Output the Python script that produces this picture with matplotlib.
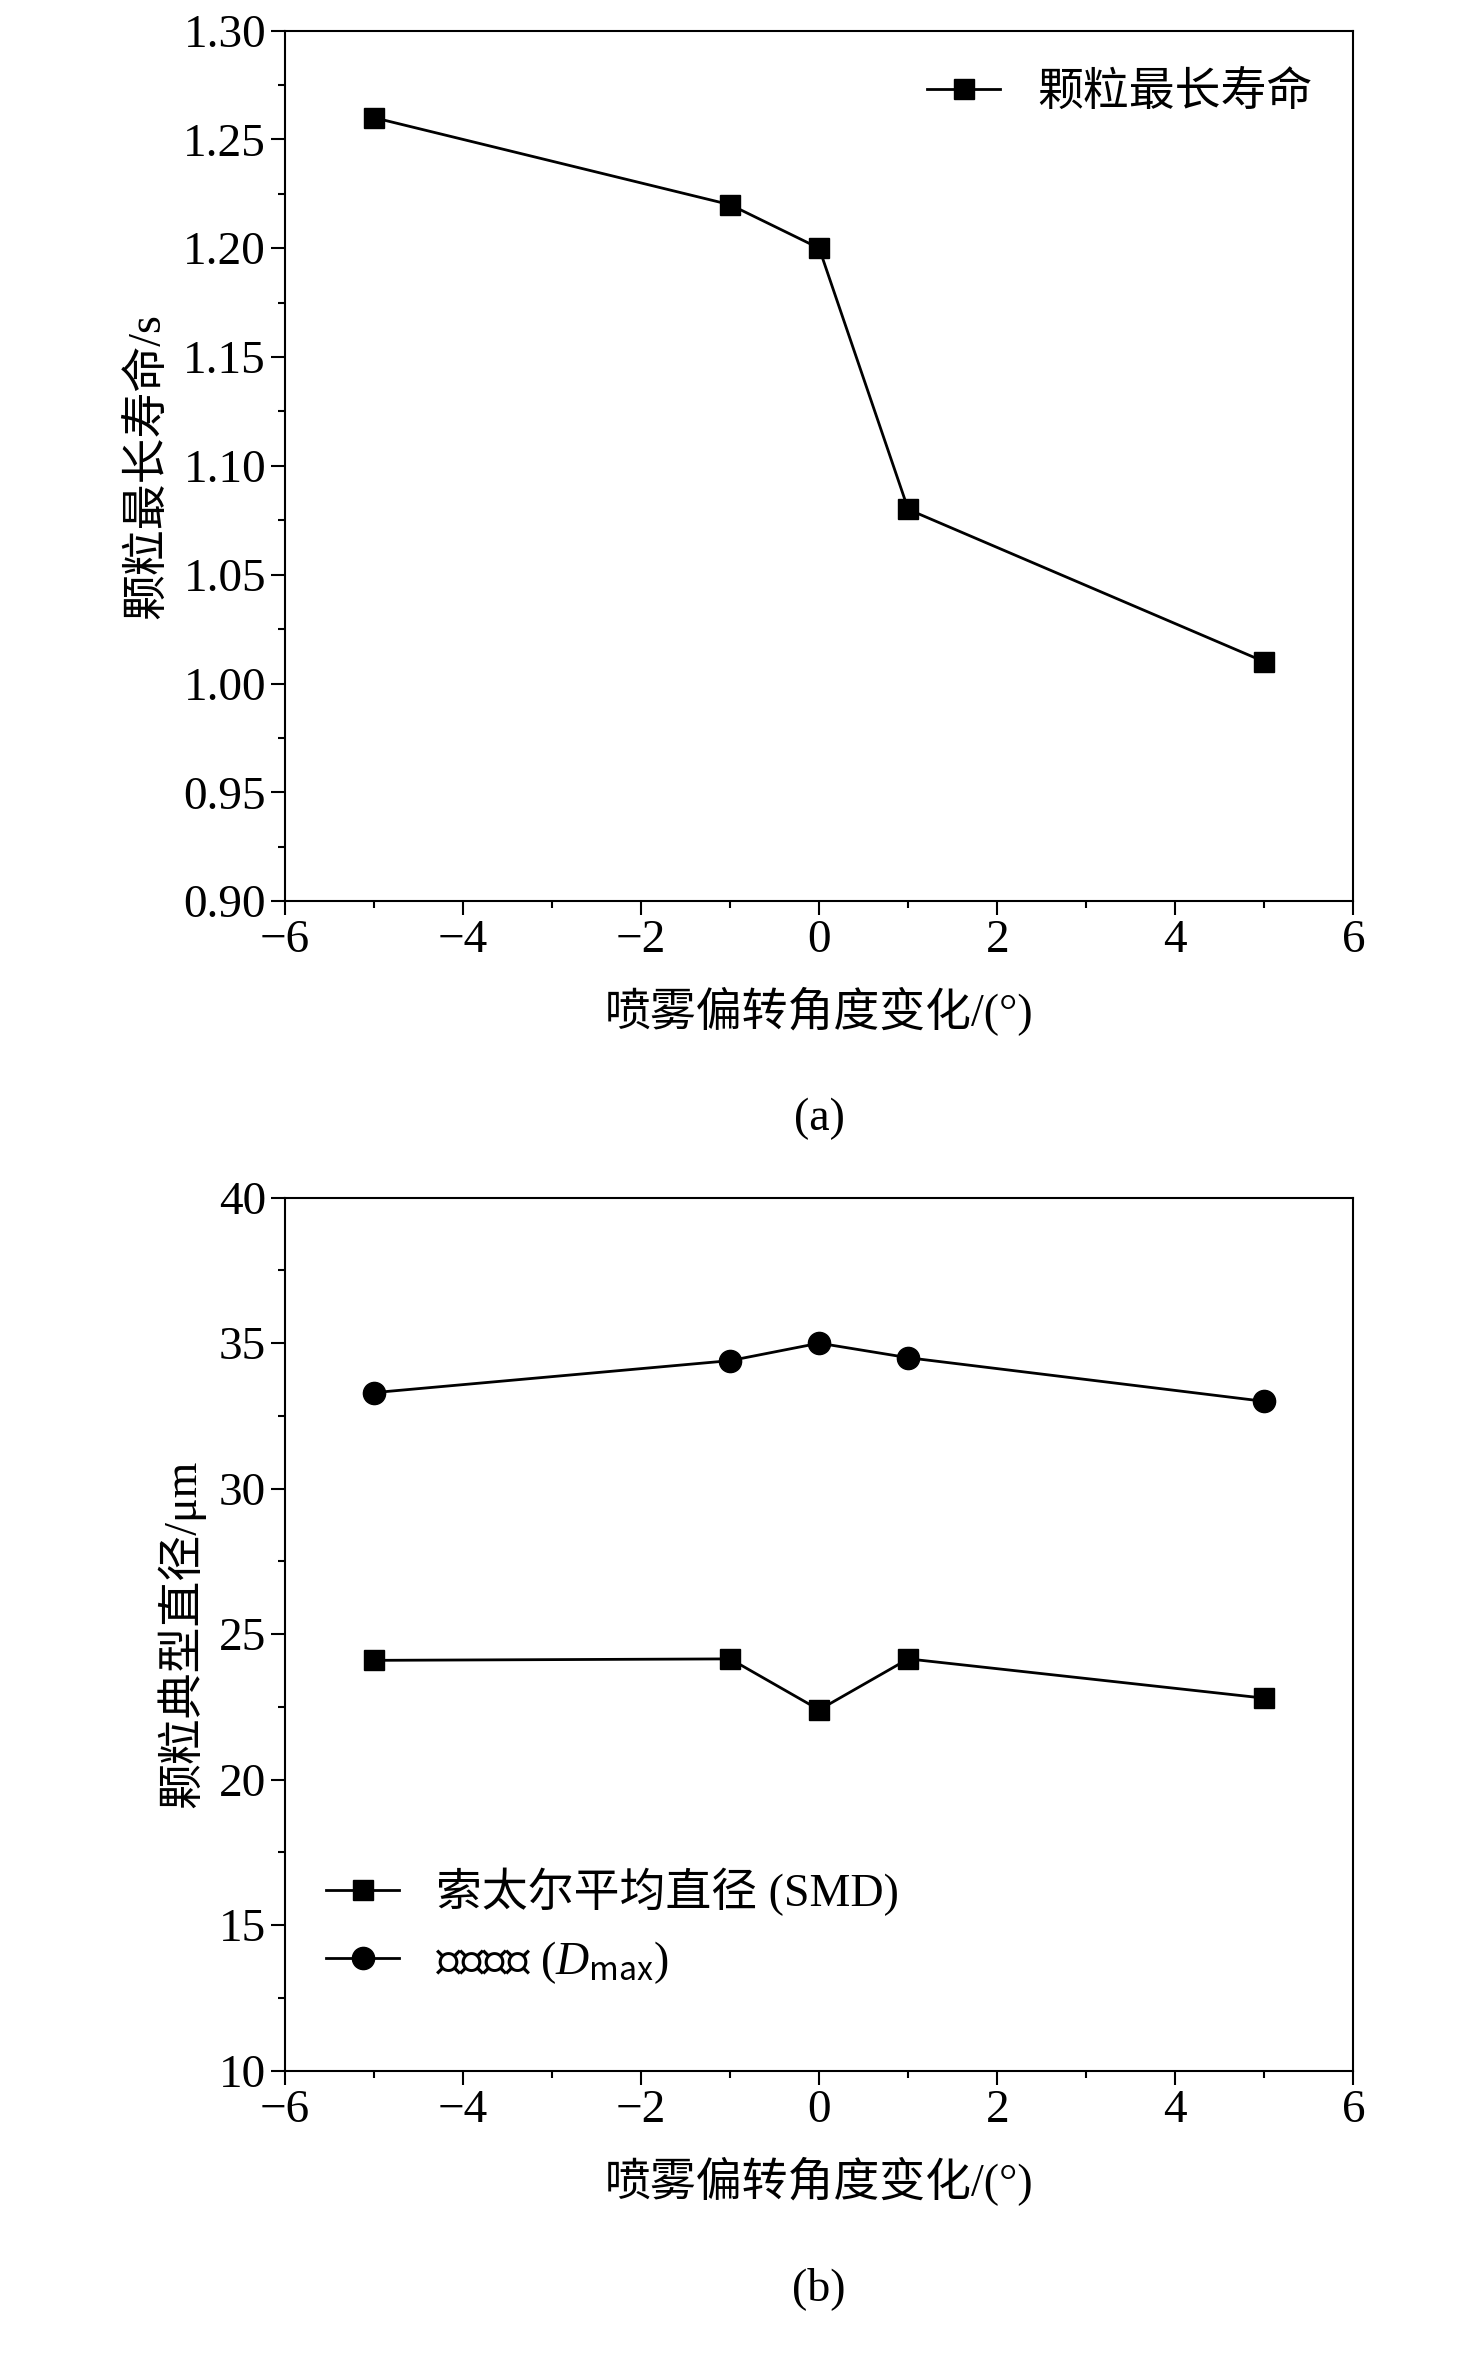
import matplotlib
matplotlib.use("Agg")
import matplotlib.pyplot as plt
from matplotlib.ticker import MultipleLocator

plt.rcParams['font.family'] = ['Liberation Serif', 'Noto Sans CJK SC']
plt.rcParams['font.size'] = 33
plt.rcParams['axes.unicode_minus'] = True
plt.rcParams['mathtext.fontset'] = 'custom'
plt.rcParams['mathtext.rm'] = 'Noto Sans CJK SC'
plt.rcParams['mathtext.it'] = 'Liberation Serif:italic'
plt.rcParams['mathtext.default'] = 'regular'

angle = [-5, -1, 0, 1, 5]
life = [1.26, 1.22, 1.20, 1.08, 1.01]
smd = [24.1, 24.15, 22.4, 24.15, 22.8]
dmax = [33.3, 34.4, 35.0, 34.5, 33.0]

fig = plt.figure(figsize=(14.76, 23.53), dpi=100)
ax1 = fig.add_axes([0.193, 0.617, 0.724, 0.370])
ax2 = fig.add_axes([0.193, 0.120, 0.724, 0.371])

ax1.plot(angle, life, 'k-s', lw=2, ms=14, label='颗粒最长寿命')
ax1.set_ylim(0.90, 1.30)
ax1.yaxis.set_major_locator(MultipleLocator(0.05))
ax1.yaxis.set_minor_locator(MultipleLocator(0.025))
ax1.set_ylabel('颗粒最长寿命/s', labelpad=10)
ax1.legend(loc='upper right', frameon=False, handlelength=1.6)

ax2.plot(angle, smd, 'k-s', lw=2, ms=14, label='索太尔平均直径 (SMD)')
ax2.plot(angle, dmax, 'k-o', lw=2, ms=16, label=r'最大直径 ($\mathit{D}_{\rm max}$)')
ax2.set_ylim(10, 40)
ax2.yaxis.set_major_locator(MultipleLocator(5))
ax2.yaxis.set_minor_locator(MultipleLocator(2.5))
ax2.set_ylabel('颗粒典型直径/μm', labelpad=10)
ax2.legend(loc='lower left', frameon=False, handlelength=1.6, bbox_to_anchor=(0.0, 0.05))

for ax, tag in ((ax1, '(a)'), (ax2, '(b)')):
    ax.set_xlim(-6, 6)
    ax.xaxis.set_major_locator(MultipleLocator(2))
    ax.xaxis.set_minor_locator(MultipleLocator(1))
    ax.set_xlabel('喷雾偏转角度变化/(°)', labelpad=18)
    ax.tick_params(which='major', length=10, width=1.5, labelsize=34)
    ax.tick_params(which='minor', length=5, width=1.5)
    for s in ax.spines.values():
        s.set_linewidth(1.5)
    ax.text(0.5, -0.25, tag, transform=ax.transAxes, ha='center', va='center')

fig.savefig('out.png', dpi=100)
